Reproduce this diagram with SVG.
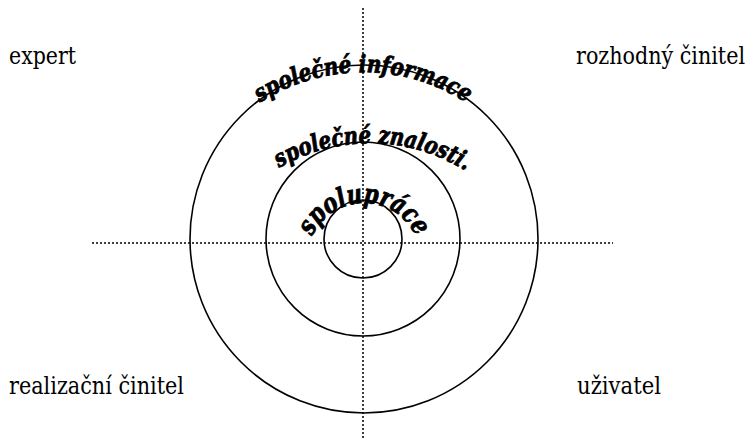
<svg xmlns="http://www.w3.org/2000/svg" width="753" height="445" viewBox="0 0 753 445">
<style>
.lbl{font-family:'DejaVu Serif',serif;font-size:24px;fill:#000}
.arc{font-family:'DejaVu Serif',serif;font-weight:bold;font-style:italic;fill:#000;stroke:#000;stroke-width:0.9}
.ring{fill:none;stroke:#000;stroke-width:1.6}
.dot{stroke:#000;stroke-width:1.5;stroke-dasharray:2 2;fill:none}
</style>
<defs>
<path id="pOuter" d="M217.5,140 A190,190 0 0,1 508.5,140"/>
<path id="pMid" d="M242.7,196 A180,180 0 0,1 497.3,196"/>
<path id="pIn" d="M307,260 A57,57 0 0,1 421,260"/>
</defs>
<rect width="753" height="445" fill="#fff"/>
<g id="connectors">
<line class="dot" x1="363" y1="8" x2="363" y2="440"/>
<line class="dot" x1="92" y1="243" x2="613" y2="243"/>
</g>
<g id="outer-ring">
<circle class="ring" cx="364" cy="239" r="174"/>
<text class="arc" font-size="24"><textPath href="#pOuter" startOffset="50%" text-anchor="middle" textLength="218" lengthAdjust="spacingAndGlyphs">společné informace</textPath></text>
</g>
<g id="middle-ring">
<circle class="ring" cx="363" cy="239" r="97"/>
<text class="arc" font-size="24"><textPath href="#pMid" startOffset="51%" text-anchor="middle" textLength="196" lengthAdjust="spacingAndGlyphs">společné znalosti.</textPath></text>
</g>
<g id="inner-ring">
<circle class="ring" cx="363" cy="239" r="39"/>
<text class="arc" font-size="27"><textPath href="#pIn" startOffset="50%" text-anchor="middle" textLength="130" lengthAdjust="spacingAndGlyphs">spolupráce</textPath></text>
</g>
<g id="expert"><text class="lbl" x="9" y="64" textLength="67" lengthAdjust="spacingAndGlyphs">expert</text></g>
<g id="rozhodny-cinitel"><text class="lbl" x="745" y="64" text-anchor="end" textLength="169" lengthAdjust="spacingAndGlyphs">rozhodný činitel</text></g>
<g id="realizacni-cinitel"><text class="lbl" x="9" y="394" textLength="175" lengthAdjust="spacingAndGlyphs">realizační činitel</text></g>
<g id="uzivatel"><text class="lbl" x="577" y="394" textLength="84" lengthAdjust="spacingAndGlyphs">uživatel</text></g>
</svg>
